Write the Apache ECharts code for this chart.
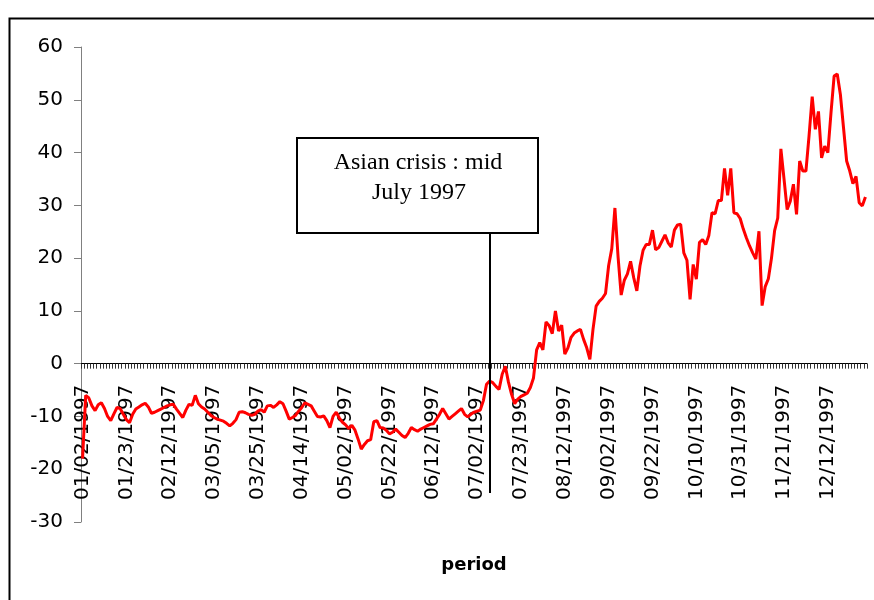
<!DOCTYPE html>
<html>
<head>
<meta charset="utf-8">
<script src="https://cdn.jsdelivr.net/npm/echarts@6/dist/echarts.min.js"></script>
<style>
html,body{margin:0;padding:0;background:#ffffff;}
#chart{width:874px;height:600px;}
</style>
</head>
<body>
<div id="chart"></div>
<script>
// ---- data ----
// Market days of 1997 (weekdays minus US bond-market holidays)
const holidays = ['01/01/1997','01/20/1997','02/17/1997','05/26/1997','07/04/1997',
                  '09/01/1997','10/13/1997','11/11/1997','11/27/1997','12/25/1997'];
const tickLabels = ['01/02/1997','01/23/1997','02/12/1997','03/05/1997','03/25/1997',
                    '04/14/1997','05/02/1997','05/22/1997','06/12/1997','07/02/1997',
                    '07/23/1997','08/12/1997','09/02/1997','09/22/1997','10/10/1997',
                    '10/31/1997','11/21/1997','12/12/1997'];
const yTicks = [-30,-20,-10,0,10,20,30,40,50,60];

const valuesA = [-18,-6,-6.5,-8.0,-8.9,-7.8,-7.4,-8.5,-10.0,-10.8,-9.5,-8.3,-8.5,-9.6,-10.6,-11.2,
  -9.6,-8.6,-8.2,-7.8,-7.5,-8.2,-9.4,-9.2,-8.9,-8.6,-8.3,-8.0,-7.8,-7.7,-8.6,-9.4,-10.2,-8.8,
  -7.7,-7.9,-6.0,-7.6,-8.2,-8.6,-9.2,-9.8,-10.2,-10.5,-10.7,-10.9,-11.3,-11.8,-11.3,-10.6,-9.2,
  -9.1,-9.3,-9.6,-9.8,-9.6,-9.0,-8.7,-9.2,-8.0,-7.9,-8.3,-7.8];
const valuesB = [-7.2,-7.6,-9.0,-10.5,-10.2,-9.8,-9.0,-8.3,-7.4,-7.7,-8.0,-9.0,-10.0,-10.1,-9.9,
  -10.8,-12.1,-10.0,-9.2,-10.3,-11.1,-11.6,-12.3,-11.7,-12.6,-14.3,-16.2,-15.3,-14.6,-14.4,-11.0,
  -10.8,-12.1,-12.2,-12.6,-13.3,-13.0,-12.4,-13.0,-13.6,-14.0,-13.2,-12.1,-12.5,-12.8,-12.4,-12.1,
  -11.8,-11.5,-11.4,-10.5,-9.6,-8.5,-9.5,-10.5,-10.0,-9.5,-9.0,-8.5,-9.6,-10.1,-9.6,-9.2];
const valuesC = [-9.0,-8.8,-7.0,-3.9,-3.3,-3.6,-4.3,-4.9,-2.0,-0.5,-3.5,-5.8,-7.6,-6.7,-6.2,-5.9,
  -5.6,-4.5,-2.7,2.6,4.0,2.6,7.9,7.2,5.7,10.0,6.2,7.3,1.8,3.0,5.0,5.8,6.2,6.5,4.6,3.0,0.8,6.5,
  10.9,11.8,12.4,13.3,18.6,21.8,29.5,20.3,13.0,15.8,17.0,19.4,16.3,13.8,18.5,21.5,22.6,22.6,25.3,
  21.6,22.0,23.2,24.4,22.9,22.1];
const valuesD = [25.3,26.3,26.4,21.0,19.6,12.2,18.8,16.0,23.0,23.5,22.6,24.3,28.6,28.4,30.9,30.9,
  37.0,31.9,37.0,28.6,28.4,27.5,25.5,23.8,22.3,21.0,19.8,25.1,11.0,14.6,16.1,20.0,25.2,27.6,40.7,
  35.0,29.2,30.8,34.0,28.3,38.4,36.5,36.5,43.2,50.6,44.4,47.8,39.0,41.2,40.0,47.5,54.5,54.9,51.0,
  44.7,38.4,36.5,34.1,35.5,30.5,29.9,31.6];
const values = valuesA.concat(valuesB, valuesC, valuesD);

function pad(n){ return (n < 10 ? '0' : '') + n; }
const categories = [];
for (let d = new Date(Date.UTC(1997,0,1)); d.getUTCFullYear() === 1997; d.setUTCDate(d.getUTCDate()+1)) {
  const wd = d.getUTCDay();
  if (wd === 0 || wd === 6) continue;
  const s = pad(d.getUTCMonth()+1) + '/' + pad(d.getUTCDate()) + '/1997';
  if (holidays.indexOf(s) >= 0) continue;
  categories.push(s);
}

const gridTop = 47, gridBottom = 78, chartH = 600;
const yMin = yTicks[0], yMax = yTicks[yTicks.length-1];
// distance (px) from the bottom edge of the grid up to the zero line
const zeroOffset = (chartH - gridTop - gridBottom) * (0 - yMin) / (yMax - yMin);

const chart = echarts.init(document.getElementById('chart'), null, {renderer:'canvas'});
chart.setOption({
  animation: false,
  backgroundColor: '#ffffff',
  grid: { left: 81, right: 7, top: gridTop, bottom: gridBottom, containLabel: false, outerBoundsMode: 'none' },
  xAxis: [{
    type: 'category',
    data: categories,
    boundaryGap: true,
    axisLine: { onZero: true, lineStyle: { color: '#000000', width: 1 } },
    axisTick: { show: true, interval: 0, length: 5, inside: false, lineStyle: { color: '#333333' } },
    axisLabel: { show: false },
    splitLine: { show: false }
  }, {
    type: 'category',
    data: categories,
    position: 'bottom',
    offset: -zeroOffset,
    boundaryGap: true,
    axisLine: { show: false, onZero: false },
    axisTick: { show: false },
    axisLabel: {
      interval: 13,
      rotate: 90,
      margin: 21,
      color: '#000000',
      fontFamily: 'DejaVu Sans',
      fontSize: 20,
      formatter: function (v) { return tickLabels.indexOf(v) >= 0 ? v : ''; }
    },
    splitLine: { show: false }
  }],
  yAxis: {
    type: 'value',
    min: yMin,
    max: yMax,
    interval: 10,
    axisLine: { show: true, onZero: false, lineStyle: { color: '#808080', width: 1 } },
    axisTick: { show: true, length: 7, inside: false, lineStyle: { color: '#808080' } },
    axisLabel: { color: '#000000', fontFamily: 'DejaVu Sans', fontSize: 20, margin: 18 },
    splitLine: { show: false }
  },
  graphic: [
    { type: 'rect', left: 7, top: 16, shape: { width: 900, height: 700 },
      style: { fill: 'none', stroke: '#000000', lineWidth: 2 }, silent: true, z: 0 },
    { type: 'line', shape: { x1: 490, y1: 233, x2: 490, y2: 493 },
      style: { stroke: '#000000', lineWidth: 2 }, z: 100 },
    { type: 'rect', shape: { x: 297, y: 138, width: 241, height: 95 },
      style: { fill: '#ffffff', stroke: '#000000', lineWidth: 2 }, z: 100 },
    { type: 'text', x: 418, y: 163, z: 101,
      style: { text: 'Asian crisis : mid', fill: '#000000', font: '24px "Liberation Serif"',
               textAlign: 'center', textVerticalAlign: 'middle' } },
    { type: 'text', x: 419, y: 193, z: 101,
      style: { text: 'July 1997', fill: '#000000', font: '24px "Liberation Serif"',
               textAlign: 'center', textVerticalAlign: 'middle' } },
    { type: 'text', x: 474, y: 565, z: 101,
      style: { text: 'period', fill: '#000000', font: 'bold 18px "DejaVu Sans"',
               textAlign: 'center', textVerticalAlign: 'middle' } }
  ],
  series: [{
    type: 'line',
    xAxisIndex: 0,
    data: values,
    showSymbol: false,
    symbol: 'none',
    smooth: false,
    lineStyle: { color: '#FF0000', width: 3 },
    z: 50
  }]
});
</script>
</body>
</html>
